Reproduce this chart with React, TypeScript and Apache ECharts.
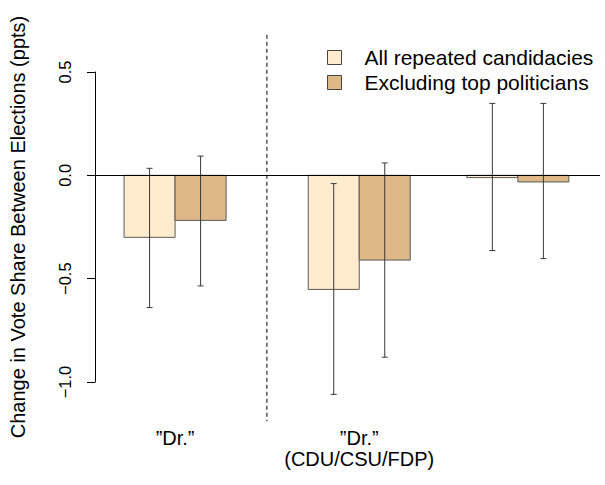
import React, { useEffect, useRef } from "react";
import * as echarts from "echarts";

// Data
const seriesNames = ["All repeated candidacies", "Excluding top politicians"];
const groupLabels = ["\u201DDr.\u201D", "\u201DDr.\u201D\n(CDU/CSU/FDP)", ""];
const groupLefts = [0.57, 4.18, 7.29]; // left edge of first bar of each group (bar-width units)
const allValues = [-0.3, -0.552, -0.011];
const allLo = [-0.64, -1.06, -0.364];
const allHi = [0.034, -0.04, 0.348];
const exclValues = [-0.218, -0.41, -0.032];
const exclLo = [-0.535, -0.88, -0.403];
const exclHi = [0.093, 0.06, 0.348];
const yTicks = [-1.0, -0.5, 0.0, 0.5];
const separatorX = 3.37;
const separatorY = [0.68, -1.19];

const BAR_W = 1;
const FONT = "'Liberation Sans', Arial, Helvetica, sans-serif";
const colors = ["#FFEBCD", "#DEB887"];

function barRender(color: string) {
  return (params: any, api: any) => {
    const x0 = api.value(0) as number;
    const v = api.value(1) as number;
    const lo = api.value(2) as number;
    const hi = api.value(3) as number;
    const p0 = api.coord([x0, 0]);
    const p1 = api.coord([x0 + BAR_W, v]);
    const xc = api.coord([x0 + BAR_W / 2, 0])[0];
    const yLo = api.coord([x0 + BAR_W / 2, lo])[1];
    const yHi = api.coord([x0 + BAR_W / 2, hi])[1];
    const cap = 3;
    const eb = { stroke: "#3a3a3a", lineWidth: 1 };
    return {
      type: "group",
      children: [
        {
          type: "rect",
          shape: {
            x: p0[0],
            y: Math.min(p0[1], p1[1]),
            width: p1[0] - p0[0],
            height: Math.abs(p1[1] - p0[1]),
          },
          style: { fill: color, stroke: "#5a5a5a", lineWidth: 1 },
        },
        { type: "line", shape: { x1: xc, y1: yLo, x2: xc, y2: yHi }, style: eb },
        { type: "line", shape: { x1: xc - cap, y1: yLo, x2: xc + cap, y2: yLo }, style: eb },
        { type: "line", shape: { x1: xc - cap, y1: yHi, x2: xc + cap, y2: yHi }, style: eb },
      ],
    };
  };
}

export default function App() {
  const ref = useRef<HTMLDivElement>(null);
  useEffect(() => {
    if (!ref.current) return;
    const chart = echarts.init(ref.current, null, { renderer: "svg" });
    const centers = groupLefts.map((l) => l + BAR_W);
    const allData = groupLefts.map((l, i) => [l, allValues[i], allLo[i], allHi[i]]);
    const exclData = groupLefts.map((l, i) => [l + BAR_W, exclValues[i], exclLo[i], exclHi[i]]);
    chart.setOption({
      animation: false,
      backgroundColor: "#ffffff",
      textStyle: { fontFamily: FONT },
      grid: { left: 95, right: 5, top: 72, bottom: 103 },
      legend: {
        data: seriesNames,
        orient: "vertical",
        left: 322,
        top: 42,
        icon: "rect",
        itemWidth: 14,
        itemHeight: 14,
        itemGap: 4,
        selectedMode: false,
        itemStyle: { borderColor: "#444", borderWidth: 1 },
        textStyle: {
          fontSize: 21,
          lineHeight: 21,
          color: "#000",
          fontFamily: FONT,
          padding: [0, 0, 0, 18],
        },
      },
      xAxis: {
        type: "value",
        min: 0,
        max: 9.9,
        axisLine: { show: false },
        axisTick: { show: false },
        splitLine: { show: false },
        axisLabel: {
          customValues: centers,
          margin: 45,
          fontSize: 20,
          lineHeight: 21,
          color: "#000",
          fontFamily: FONT,
          verticalAlign: "top",
          formatter: (val: number) => {
            const i = centers.findIndex((c) => Math.abs(c - val) < 1e-6);
            return i >= 0 ? groupLabels[i] : "";
          },
        },
      },
      yAxis: {
        type: "value",
        min: -1.0,
        max: 0.5,
        interval: 0.5,
        name: "Change in Vote Share Between Elections (ppts)",
        nameLocation: "middle",
        nameRotate: 90,
        nameGap: 67,
        nameTextStyle: { fontSize: 20, color: "#000", fontFamily: FONT },
        axisLine: { show: true, lineStyle: { color: "#000", width: 1 } },
        axisTick: { show: true, length: 8, lineStyle: { color: "#000" }, customValues: yTicks },
        splitLine: { show: false },
        axisLabel: {
          rotate: 90,
          margin: 22,
          fontSize: 16.5,
          color: "#000",
          fontFamily: FONT,
          customValues: yTicks,
          formatter: (v: number) => v.toFixed(1).replace("-", "\u2212"),
        },
      },
      series: [
        {
          name: "sep",
          type: "custom",
          clip: false,
          silent: true,
          data: [[separatorX, separatorY[0], separatorY[1]]],
          renderItem: (params: any, api: any) => {
            const a = api.coord([api.value(0), api.value(1)]);
            const b = api.coord([api.value(0), api.value(2)]);
            return {
              type: "line",
              shape: { x1: a[0], y1: a[1], x2: b[0], y2: b[1] },
              style: { stroke: "#000", lineWidth: 1, lineDash: [4, 3] },
            };
          },
          markLine: {
            silent: true,
            symbol: "none",
            label: { show: false },
            lineStyle: { color: "#000", width: 1, type: "solid" },
            data: [{ yAxis: 0 }],
          },
        },
        {
          name: seriesNames[0],
          type: "custom",
          clip: false,
          itemStyle: { color: colors[0], borderColor: "#444" },
          data: allData,
          renderItem: barRender(colors[0]),
          z: 3,
        },
        {
          name: seriesNames[1],
          type: "custom",
          clip: false,
          itemStyle: { color: colors[1], borderColor: "#444" },
          data: exclData,
          renderItem: barRender(colors[1]),
          z: 3,
        },
      ],
    });
    return () => chart.dispose();
  }, []);
  return (
    <div
      ref={ref}
      style={{ position: "fixed", left: 0, top: 0, width: 605, height: 485, background: "#fff" }}
    />
  );
}
